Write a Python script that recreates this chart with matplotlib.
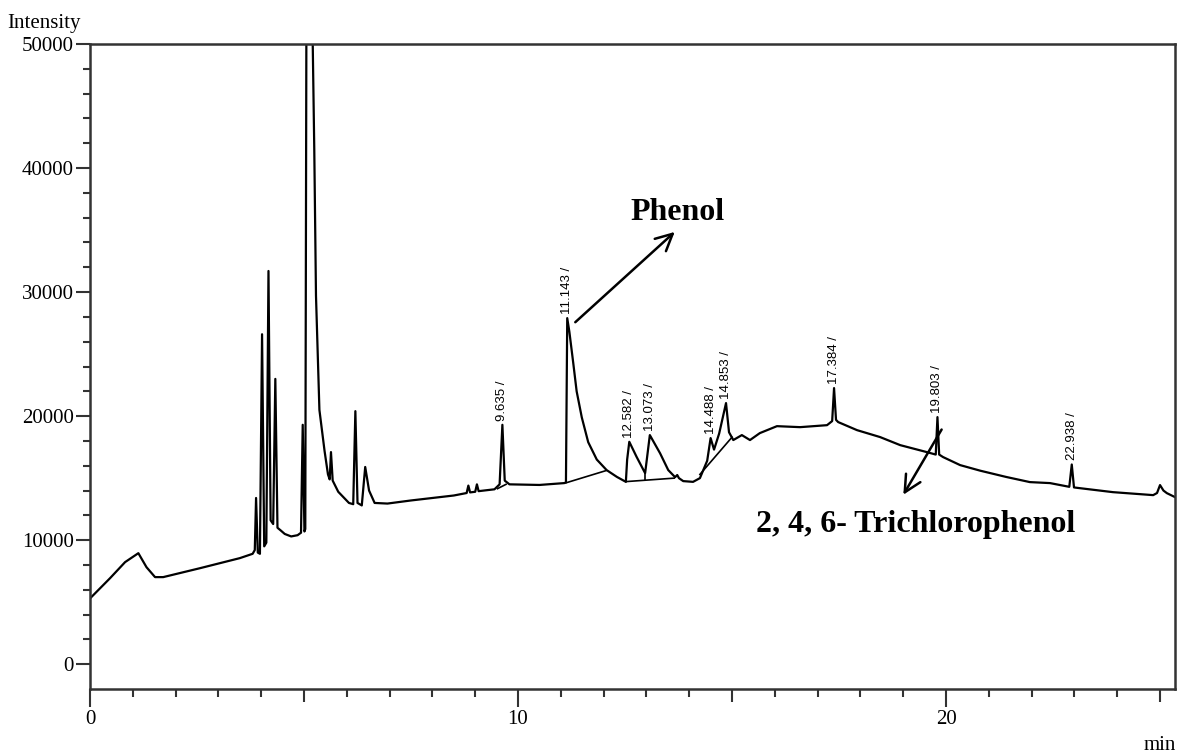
#!/usr/bin/env python
#  GC chromatogram - phenol / 2,4,6-trichlorophenol trace, redrawn from the picture

import matplotlib
matplotlib.use("Agg")
import matplotlib.pyplot as plt
from matplotlib.ticker import FixedLocator

# trace: retention time (min) and intensity
rt_min = [0.00, 0.47, 0.82, 1.13, 1.32, 1.52, 1.71, 2.57, 3.50, 3.80,
          3.85, 3.88, 3.92, 3.97, 4.02, 4.07, 4.12, 4.17, 4.22, 4.28,
          4.33, 4.38, 4.45, 4.55, 4.70, 4.85, 4.93, 4.97, 5.01, 5.03,
          5.06, 5.17, 5.24, 5.28, 5.36, 5.48, 5.56, 5.60, 5.63, 5.67,
          5.80, 6.05, 6.15, 6.20, 6.25, 6.35, 6.43, 6.52, 6.65, 6.95,
          7.50, 8.00, 8.50, 8.80, 8.84, 8.88, 9.00, 9.04, 9.08, 9.45,
          9.57, 9.635, 9.69, 9.80, 10.50, 11.08, 11.12, 11.15, 11.20, 11.29,
          11.37, 11.49, 11.64, 11.84, 12.07, 12.31, 12.52, 12.55, 12.60, 12.77,
          12.97, 13.08, 13.32, 13.51, 13.67, 13.72, 13.76, 13.86, 14.09, 14.25,
          14.42, 14.50, 14.58, 14.70, 14.86, 14.93, 15.03, 15.23, 15.42, 15.65,
          16.05, 16.59, 17.22, 17.34, 17.384, 17.43, 17.48, 17.92, 18.46, 18.93,
          19.55, 19.76, 19.80, 19.84, 19.93, 20.33, 20.80, 21.40, 21.96, 22.43,
          22.88, 22.938, 22.99, 23.13, 23.90, 24.84, 24.93, 25.00, 25.08, 25.16,
          25.35]
intensity = [5300, 6940, 8230, 8950, 7820, 7020, 7020, 7740, 8550, 8900,
             9200, 13400, 9000, 8900, 26600, 9500, 9800, 31700, 11600, 11300,
             23000, 11000, 10800, 10500, 10300, 10400, 10600, 19300, 10700, 10900,
             58000, 58000, 41500, 29700, 20500, 17200, 15300, 14900, 17100, 14800,
             13900, 13000, 12900, 20400, 13000, 12800, 15900, 14000, 13000, 12950,
             13200, 13400, 13600, 13800, 14400, 13850, 13900, 14500, 13950, 14100,
             14500, 19300, 14800, 14500, 14450, 14600, 14650, 27900, 26800, 24300,
             22000, 19900, 17900, 16500, 15650, 15100, 14700, 16500, 17930, 16720,
             15400, 18470, 17000, 15650, 15080, 15250, 15000, 14760, 14700, 15000,
             16400, 18230, 17300, 18600, 21050, 18700, 18070, 18470, 18070, 18630,
             19190, 19110, 19270, 19600, 22260, 19700, 19520, 18870, 18310, 17660,
             17100, 16900, 19920, 16900, 16700, 16050, 15600, 15100, 14680, 14600,
             14300, 16100, 14250, 14190, 13870, 13630, 13800, 14440, 14000, 13790,
             13470]

# integration baselines drawn under some peaks
base_t = [[9.52, 9.72], [11.12, 12.05], [12.52, 13.65], [12.97, 12.97], [14.25, 15.00]]
base_i = [[14150, 14500], [14620, 15600], [14720, 15000], [15400, 14860], [15300, 18300]]

# labelled peaks
peak_rt = [9.635, 11.15, 12.60, 13.08, 14.50, 14.86, 17.384, 19.80, 22.938]
peak_top = [19300, 27900, 17930, 18470, 18230, 21050, 22260, 19920, 16100]
peak_lbl = ["9.635", "11.143", "12.582", "13.073", "14.488", "14.853",
            "17.384", "19.803", "22.938"]

serif = "Liberation Serif"

fig = plt.figure(figsize=(11.78, 7.56), dpi=100)
ax = fig.add_axes([90/1178, 1-689/756, (1175-90)/1178, (689-44)/756])

ax.plot(rt_min, intensity, color="black", lw=1.6)
for bt, bi in zip(base_t, base_i):
    ax.plot(bt, bi, color="black", lw=1.2)

for t, h, s in zip(peak_rt, peak_top, peak_lbl):
    ax.annotate(s + " /", xy=(t, h), xytext=(0, 3), textcoords="offset points",
                rotation=90, ha="center", va="bottom", fontsize=9.5,
                family="Liberation Sans")

ax.set_xlim(0, 25.35)
ax.set_ylim(-2000, 50000)

ax.set_xticks([0, 10, 20])
ax.xaxis.set_minor_locator(FixedLocator([i for i in range(26) if i % 10]))
ax.set_yticks(range(0, 50001, 10000))
ax.yaxis.set_minor_locator(FixedLocator([i for i in range(0, 50001, 2000) if i % 10000]))
ax.set_yticklabels([str(v) for v in range(0, 50001, 10000)])

ax.tick_params(axis="x", which="major", direction="out", length=13, width=1.5,
               pad=2, labelsize=15, colors="#333333", labelcolor="black")
ax.tick_params(axis="x", which="minor", direction="out", length=6, width=1.5, colors="#333333")
ax.tick_params(axis="y", which="major", direction="out", length=10, width=1.5,
               pad=1.5, labelsize=15, colors="#333333", labelcolor="black")
ax.tick_params(axis="y", which="minor", direction="out", length=5, width=1.5, colors="#333333")
for tk, v in zip(ax.xaxis.get_minor_ticks(), ax.xaxis.get_minorticklocs()):
    if v % 5 == 0:
        tk.tick1line.set_markersize(9)
for lab in ax.get_xticklabels() + ax.get_yticklabels():
    lab.set_family(serif)

for sp in ax.spines.values():
    sp.set_color("#333333")
    sp.set_linewidth(1.8)

# compound annotations
ax.annotate("", xy=(13.71, 35000), xytext=(11.29, 27420),
            arrowprops=dict(arrowstyle="->", lw=1.8, color="black", mutation_scale=30))
ax.text(13.73, 35800, "Phenol", ha="center", va="baseline", fontsize=23,
        fontweight="bold", family=serif)
ax.annotate("", xy=(18.97, 13470), xytext=(19.93, 19110),
            arrowprops=dict(arrowstyle="->", lw=1.8, color="black", mutation_scale=30))
ax.text(19.30, 10650, "2, 4, 6- Trichlorophenol", ha="center", va="baseline",
        fontsize=23, fontweight="bold", family=serif)

fig.text(7/1178, 1-28/756, "Intensity", ha="left", va="baseline", fontsize=15, family=serif)
fig.text(1176/1178, 1-750/756, "min", ha="right", va="baseline", fontsize=15, family=serif)

fig.savefig("out.png", dpi=100)
